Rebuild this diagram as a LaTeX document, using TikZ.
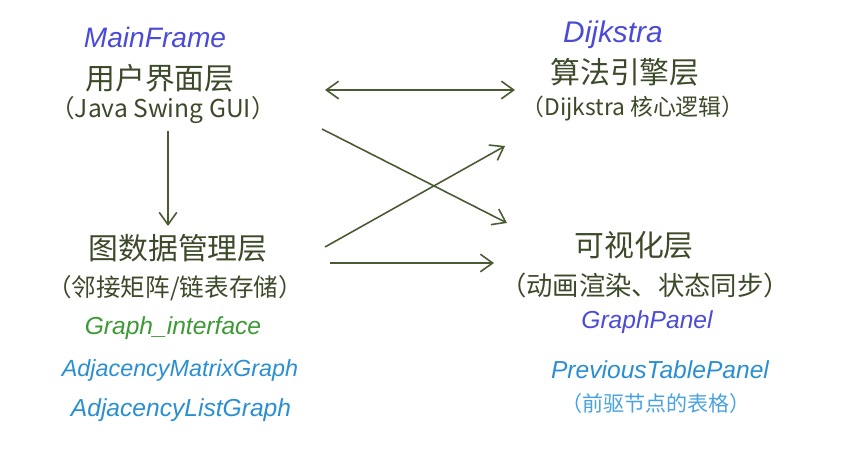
\documentclass[tikz,border=0pt]{standalone}
\usepackage{fontspec}
\setmainfont{Liberation Sans}
\newfontfamily\cjk{Noto Sans CJK SC}
\usetikzlibrary{arrows.meta}

\definecolor{inkdark}{HTML}{3D4A2A}
\definecolor{inkline}{HTML}{4A5A32}
\definecolor{inkviolet}{HTML}{4B4BD6}
\definecolor{inkgreen}{HTML}{3C9A34}
\definecolor{inkblue}{HTML}{2A8FD0}
\definecolor{inklight}{HTML}{4AA2E0}

\tikzset{
  layer/.style={text=inkdark, font=\cjk\fontsize{17}{20}\selectfont, inner sep=0pt},
  note/.style={text=inkdark, font=\cjk\fontsize{13}{16}\selectfont, inner sep=0pt},
  cls/.style={font=\itshape\fontsize{14}{17}\selectfont, inner sep=0pt},
  link/.style={inkline, line width=0.9pt, -{Straight Barb[length=7pt,width=10pt]}},
}

\begin{document}
\begin{tikzpicture}[x=0.02cm, y=-0.02cm]

		\useasboundingbox (0,0) rectangle (852,460);

		% user interface layer

		\node[cls, text=inkviolet, font=\itshape\fontsize{16}{19}\selectfont] (mainframe) at (155,37) {MainFrame};

		\node[layer] (ui) at (160,78) {用户界面层};

		\node[note, font=\cjk\fontsize{14}{17}\selectfont] (uinote) at (163,110) {（Java Swing GUI）};

		% graph data layer

		\node[layer] (data) at (178,248) {图数据管理层};

		\node[note, font=\cjk\fontsize{14}{17}\selectfont] (datanote) at (175,288) {（邻接矩阵/链表存储）};

		\node[cls, text=inkgreen] (iface) at (173,328) {Graph\_interface};

		\node[cls, text=inkblue, font=\itshape\fontsize{13.3}{16}\selectfont] (matrix) at (180,370) {AdjacencyMatrixGraph};

		\node[cls, text=inkblue] (list) at (181,410) {AdjacencyListGraph};

		% algorithm engine layer

		\node[cls, text=inkviolet, font=\itshape\fontsize{17}{20}\selectfont] (dijkstra) at (613,35) {Dijkstra};

		\node[layer] (engine) at (625,72) {算法引擎层};

		\node[note] (enginenote) at (633,108) {（Dijkstra 核心逻辑）};

		% visualization layer

		\node[layer] (view) at (634,245) {可视化层};

		\node[note, font=\cjk\fontsize{15}{18}\selectfont] (viewnote) at (645,285) {（动画渲染、状态同步）};

		\node[cls, text=inkviolet] (panel) at (647,322) {GraphPanel};

		\node[cls, text=inkblue] (table) at (660,370) {PreviousTablePanel};

		\node[note, text=inklight, font=\cjk\fontsize{12}{15}\selectfont] (tablenote) at (656,403) {（前驱节点的表格）};

		% connector ends

		\coordinate (uiD)     at (168,131);
		\coordinate (dataU)   at (168,226);
		\coordinate (uiR)     at (325,90);
		\coordinate (engineL) at (515,90);
		\coordinate (uiX)     at (322,129);
		\coordinate (viewX)   at (507,223);
		\coordinate (dataX)   at (325,247);
		\coordinate (engineX) at (505,146);
		\coordinate (dataR)   at (330,263);
		\coordinate (viewL)   at (494,263);

		% arrows

		\draw [link] (uiD) -- (dataU);

		\draw [link, {Straight Barb[length=7pt,width=10pt]}-{Straight Barb[length=7pt,width=10pt]}] (uiR) -- (engineL);

		\draw [link] (uiX) -- (viewX);

		\draw [link] (dataX) -- (engineX);

		\draw [link] (dataR) -- (viewL);

	\end{tikzpicture}
\end{document}
